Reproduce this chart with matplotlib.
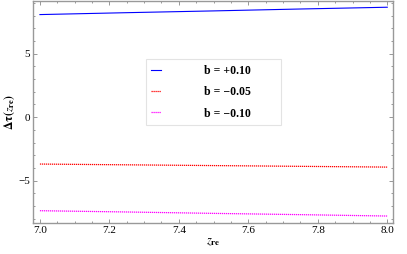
import matplotlib
matplotlib.use("Agg")
import matplotlib.pyplot as plt
from matplotlib.ticker import MultipleLocator

plt.rcParams['font.family'] = ['Liberation Serif', 'DejaVu Serif']
plt.rcParams['mathtext.fontset'] = 'stix'

# data
z_re = [7.0, 7.25, 7.5, 7.75, 8.0]
dtau_p010 = [8.09, 8.24, 8.38, 8.53, 8.67]
dtau_m005 = [-3.70, -3.76, -3.82, -3.88, -3.94]
dtau_m010 = [-7.38, -7.48, -7.59, -7.69, -7.80]
labels = ['b = +0.10', 'b = \u22120.05', 'b = \u22120.10']

fig = plt.figure(figsize=(4.07, 2.54), dpi=100)
ax = fig.add_axes([0.081, 0.122, 0.885, 0.876])

ax.plot(z_re, dtau_p010, color='blue', lw=0.8, label=labels[0])
ax.plot(z_re, dtau_m005, color='red', lw=0.9, ls=(0, (1, 0.6)), label=labels[1])
ax.plot(z_re, dtau_m010, color='magenta', lw=0.9, ls=(0, (1, 0.6)), label=labels[2])

ax.set_xlim(6.98, 8.017)
ax.set_ylim(-8.35, 9.2)
ax.xaxis.set_major_locator(MultipleLocator(0.2))
ax.xaxis.set_minor_locator(MultipleLocator(0.05))
ax.yaxis.set_major_locator(MultipleLocator(5))
ax.yaxis.set_minor_locator(MultipleLocator(1))
ax.tick_params(which='both', direction='in', top=True, right=True,
               labelsize=8, color='#888888', width=0.6, pad=2)
ax.tick_params(which='major', length=3)
ax.tick_params(which='minor', length=1.5)
for s in ax.spines.values():
    s.set_color('#999999')
    s.set_linewidth(1.0)

ax.set_xlabel(r'$z_{\mathbf{re}}$', fontsize=9, labelpad=1)
ax.set_ylabel(r'$\mathbf{\Delta\tau(}z_{\mathbf{re}}\mathbf{)}$', fontsize=8.5, labelpad=1)

# legend box spans roughly x 146-281 px, y 59-123 px of the figure
x0, x1 = (146 - 33) / 360, (281 - 33) / 360
y0, y1 = (223 - 123) / 223, (223 - 59) / 223
leg = ax.legend(loc='upper left', bbox_to_anchor=(x0, y0, x1 - x0, y1 - y0),
                mode='expand', frameon=True, borderaxespad=0,
                fancybox=False, edgecolor='#dddddd', handlelength=0.85,
                handletextpad=3.6, borderpad=0.45, labelspacing=0.8,
                prop={'weight': 'bold', 'size': 8.5})
leg.get_frame().set_linewidth(0.8)

fig.savefig('out.png', dpi=100)
